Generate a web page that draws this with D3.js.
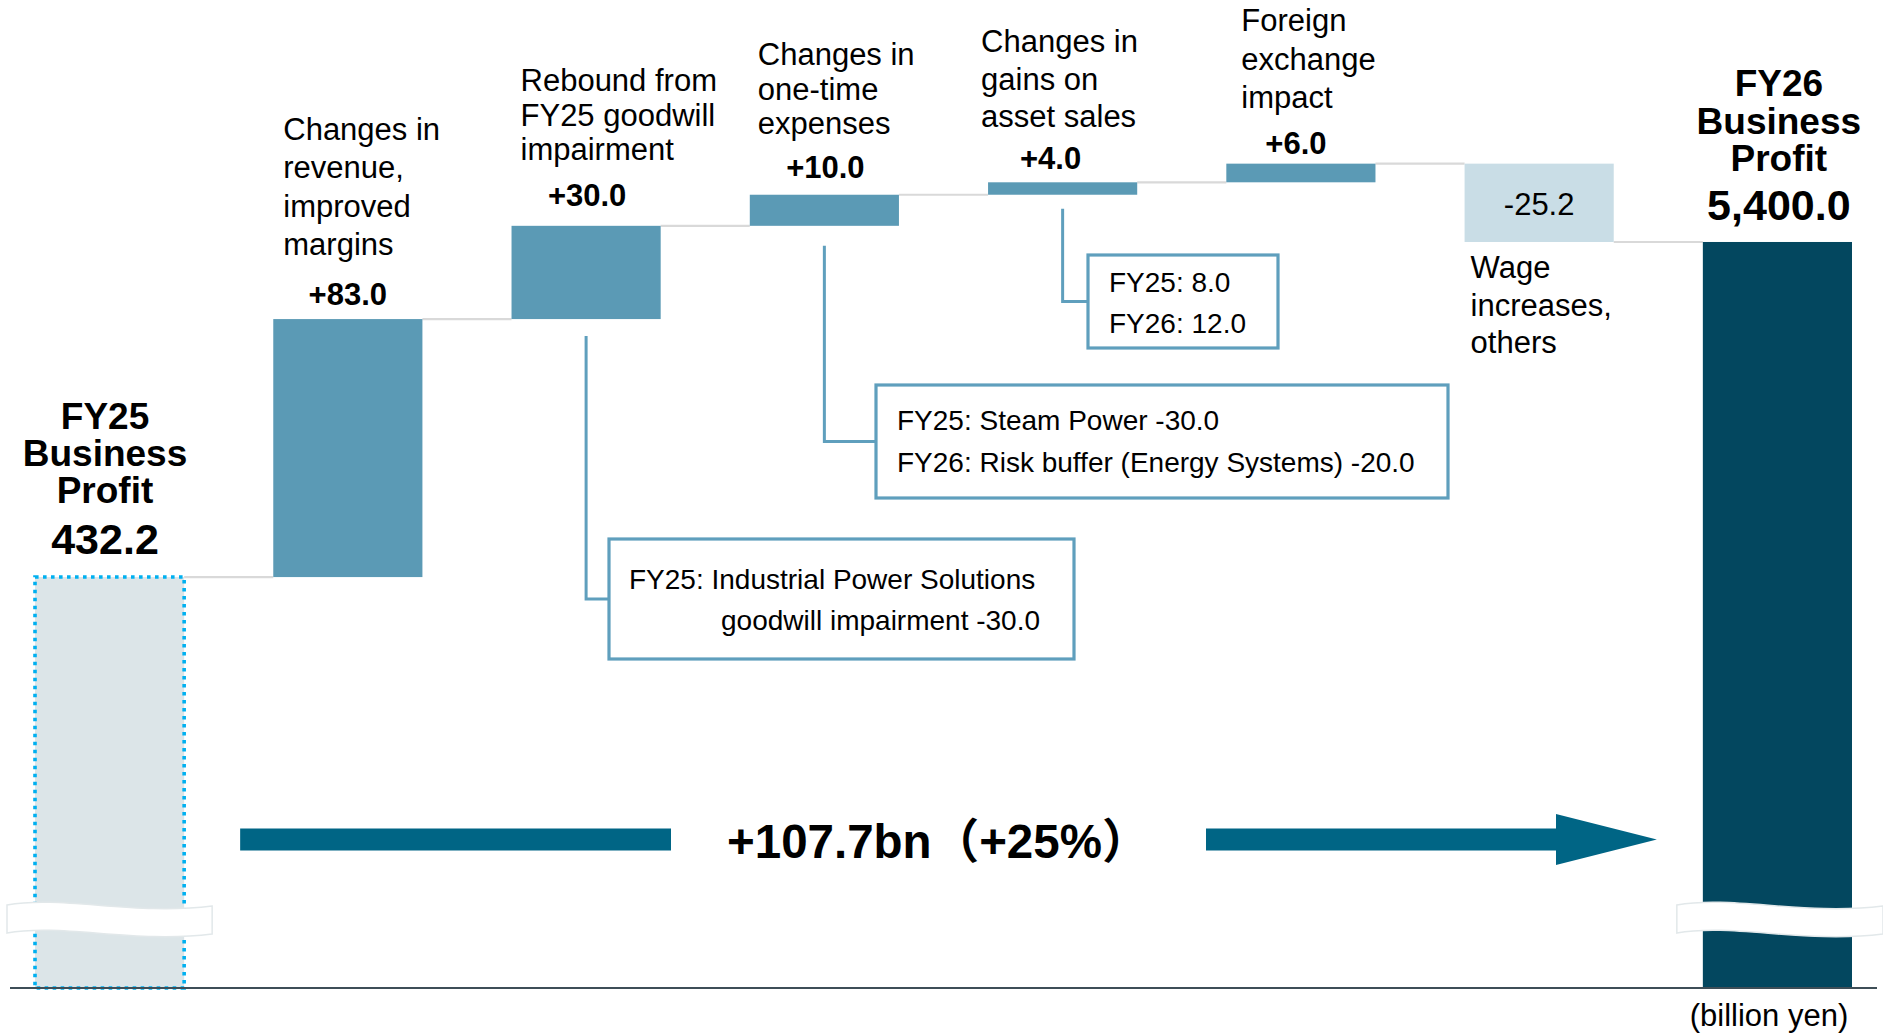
<!DOCTYPE html>
<html>
<head>
<meta charset="utf-8">
<script src="https://cdn.jsdelivr.net/npm/d3@7"></script>
<style>
html, body { margin: 0; padding: 0; background: #ffffff; }
svg { display: block; font-family: "Liberation Sans", Arial, "Noto Sans CJK JP", sans-serif; }
</style>
</head>
<body>
<svg id="chart" width="1883" height="1034"></svg>
<script>
// ---------------- DATA ----------------
const categories = [
  "FY25 Business Profit",
  "Changes in revenue, improved margins",
  "Rebound from FY25 goodwill impairment",
  "Changes in one-time expenses",
  "Changes in gains on asset sales",
  "Foreign exchange impact",
  "Wage increases, others",
  "FY26 Business Profit"
];
const startValue = 432.2;
const deltas = [83.0, 30.0, 10.0, 4.0, 6.0, -25.2];
const endValue = 540.0;
const valueLabels = ["432.2", "+83.0", "+30.0", "+10.0", "+4.0", "+6.0", "-25.2", "5,400.0"];
const categoryLabelLines = [
  ["FY25", "Business", "Profit"],
  ["Changes in", "revenue,", "improved", "margins"],
  ["Rebound from", "FY25 goodwill", "impairment"],
  ["Changes in", "one-time", "expenses"],
  ["Changes in", "gains on", "asset sales"],
  ["Foreign", "exchange", "impact"],
  ["Wage", "increases,", "others"],
  ["FY26", "Business", "Profit"]
];
const noteCategoryIndex = [2, 3, 4];
const noteLines = [
  ["FY25: Industrial Power Solutions", "goodwill impairment -30.0"],
  ["FY25: Steam Power -30.0", "FY26: Risk buffer (Energy Systems) -20.0"],
  ["FY25: 8.0", "FY26: 12.0"]
];
const totalChangeLabel = "+107.7bn\uFF08+25%\uFF09";
const unitLabel = "(billion yen)";

// ---------------- LAYOUT (not data) ----------------
const axisMin = 300;
const colors = {
  up: "#5b9ab5",
  down: "#c9dde6",
  total: "#03475f",
  startFill: "#dce5e8",
  startStroke: "#00b0f0",
  connector: "#d9d9d9",
  note: "#5f9fbd",
  arrow: "#006585",
  axis: "#3e4e57",
  text: "#000000"
};
// label placement: anchor, x offset from band start, first baseline, line height, font size, bold; value label offset
const labelLayout = [
  { anchor: "middle", dx: 70,  y0: 429, lh: 37,   size: 37, bold: true,  vy: 554, vsize: 43, vbold: true, vdx: 0 },
  { anchor: "start",  dx: 10,  y0: 140, lh: 38.4, size: 31, bold: false, vy: 305, vsize: 31, vbold: true, vdx: 0 },
  { anchor: "start",  dx: 9,   y0: 91,  lh: 34.6, size: 31, bold: false, vy: 206, vsize: 31, vbold: true, vdx: 1 },
  { anchor: "start",  dx: 8,   y0: 65,  lh: 34.6, size: 31, bold: false, vy: 178, vsize: 31, vbold: true, vdx: 1 },
  { anchor: "start",  dx: -7,  y0: 52,  lh: 37.5, size: 31, bold: false, vy: 169, vsize: 31, vbold: true, vdx: -12 },
  { anchor: "start",  dx: 15,  y0: 31,  lh: 38.5, size: 31, bold: false, vy: 154, vsize: 31, vbold: true, vdx: -5 },
  { anchor: "start",  dx: 6,   y0: 278, lh: 37.5, size: 31, bold: false, vy: 215, vsize: 31, vbold: false, vdx: 0 },
  { anchor: "middle", dx: 76,  y0: 96,  lh: 37.5, size: 37, bold: true,  vy: 220, vsize: 43, vbold: true, vdx: 0 }
];
const noteLayout = [
  { x: 609, y: 539, w: 465, h: 120, tx: [629, 721], ty: [589, 630], lineGap: 17 },
  { x: 876, y: 385, w: 572, h: 113, tx: [897, 897], ty: [430, 472], lineGap: 20 },
  { x: 1088, y: 255, w: 190, h: 93, tx: [1109, 1109], ty: [292, 333], lineGap: 14 }
];

// ---------------- SCALES ----------------
const svg = d3.select("#chart");
const x = d3.scaleBand().domain(categories).range([35, 1852]).paddingInner(0.374).paddingOuter(0);
const y = d3.scaleLinear().domain([axisMin, 570]).range([988, 988 - 270 * 3.1084]);

// running totals
const bars = [];
bars.push({ cat: categories[0], lo: axisMin, hi: startValue, type: "start", end: startValue });
let run = startValue;
deltas.forEach((d, i) => {
  const nxt = run + d;
  bars.push({ cat: categories[i + 1], lo: Math.min(run, nxt), hi: Math.max(run, nxt), type: d >= 0 ? "up" : "down", end: nxt });
  run = nxt;
});
bars.push({ cat: categories[7], lo: axisMin, hi: endValue, type: "total", end: endValue });

// connectors
const gConn = svg.append("g");
for (let i = 0; i < bars.length - 1; i++) {
  const lvl = bars[i].end;
  gConn.append("line")
    .attr("x1", x(bars[i].cat) + x.bandwidth())
    .attr("x2", x(bars[i + 1].cat))
    .attr("y1", y(lvl)).attr("y2", y(lvl))
    .attr("stroke", colors.connector).attr("stroke-width", 2.2);
}

// bars
const gBars = svg.append("g");
bars.forEach(b => {
  const r = gBars.append("rect")
    .attr("x", x(b.cat))
    .attr("width", x.bandwidth())
    .attr("y", y(b.hi))
    .attr("height", y(b.lo) - y(b.hi));
  if (b.type === "start") {
    r.attr("fill", colors.startFill)
     .attr("stroke", colors.startStroke).attr("stroke-width", 3.6)
     .attr("stroke-dasharray", "3.6,4.4");
  } else {
    r.attr("fill", b.type === "up" ? colors.up : b.type === "down" ? colors.down : colors.total);
  }
});

// axis baseline
svg.append("line")
  .attr("x1", 10).attr("x2", 1877)
  .attr("y1", y(axisMin)).attr("y2", y(axisMin))
  .attr("stroke", colors.axis).attr("stroke-width", 2);

// break marks
function breakPath(x0, x1, yT, th) {
  const w = x1 - x0;
  return `M${x0},${yT} C${x0 + w * 0.27},${yT - 10} ${x0 + w * 0.62},${yT + 11} ${x1},${yT + 1}` +
         ` L${x1},${yT + 1 + th} C${x0 + w * 0.62},${yT + 11 + th} ${x0 + w * 0.27},${yT - 10 + th} ${x0},${yT + th} Z`;
}
const bx0 = x(categories[0]), bx7 = x(categories[7]);
svg.append("path").attr("d", breakPath(bx0 - 28, bx0 + x.bandwidth() + 28, 905, 28))
  .attr("fill", "#ffffff").attr("stroke", "#e2e8ea").attr("stroke-width", 1.5);
svg.append("path").attr("d", breakPath(bx7 - 26, 1883, 905, 28))
  .attr("fill", "#ffffff").attr("stroke", "#e2e8ea").attr("stroke-width", 1.5);

// category labels + value labels
const gLab = svg.append("g").attr("fill", colors.text);
bars.forEach((b, i) => {
  const L = labelLayout[i];
  const bx = x(b.cat) + L.dx;
  const t = gLab.append("text")
    .attr("text-anchor", L.anchor)
    .attr("font-size", L.size)
    .attr("font-weight", L.bold ? "bold" : "normal");
  categoryLabelLines[i].forEach((ln, j) => {
    t.append("tspan").attr("x", bx).attr("y", L.y0 + j * L.lh).text(ln);
  });
  const cx = ((i === 0 || i === 7) ? bx : x(b.cat) + x.bandwidth() / 2) + L.vdx;
  gLab.append("text")
    .attr("x", cx).attr("y", L.vy)
    .attr("text-anchor", "middle")
    .attr("font-size", L.vsize)
    .attr("font-weight", L.vbold ? "bold" : "normal")
    .text(valueLabels[i]);
});

// note boxes with connectors
const gNotes = svg.append("g");
noteCategoryIndex.forEach((ci, k) => {
  const N = noteLayout[k];
  const b = bars[ci];
  const cx = x(b.cat) + x.bandwidth() / 2;
  const yStart = y(b.lo) + N.lineGap;
  const yMid = N.y + N.h / 2;
  gNotes.append("path")
    .attr("d", `M${cx},${yStart} L${cx},${yMid} L${N.x},${yMid}`)
    .attr("fill", "none").attr("stroke", colors.note).attr("stroke-width", 3);
  gNotes.append("rect")
    .attr("x", N.x).attr("y", N.y).attr("width", N.w).attr("height", N.h)
    .attr("fill", "#ffffff").attr("stroke", colors.note).attr("stroke-width", 3.2);
  noteLines[k].forEach((ln, j) => {
    gNotes.append("text")
      .attr("x", N.tx[j]).attr("y", N.ty[j])
      .attr("font-size", 28).attr("fill", colors.text)
      .text(ln);
  });
});

// total change arrow + label
const arrowY = 839.5;
const shaftH = 22;
const aStart = bx0 + x.bandwidth() + 56;
const aLeftEnd = 671;
const aRightStart = 1206;
const headBase = 1556;
const tip = bx7 - 46;
svg.append("rect").attr("x", aStart).attr("y", arrowY - shaftH / 2)
  .attr("width", aLeftEnd - aStart).attr("height", shaftH).attr("fill", colors.arrow);
svg.append("path")
  .attr("d", `M${aRightStart},${arrowY - shaftH / 2} L${headBase},${arrowY - shaftH / 2} L${headBase},${arrowY - 25.5} L${tip},${arrowY} L${headBase},${arrowY + 25.5} L${headBase},${arrowY + shaftH / 2} L${aRightStart},${arrowY + shaftH / 2} Z`)
  .attr("fill", colors.arrow);
svg.append("text")
  .attr("x", 727).attr("y", 858)
  .attr("font-size", 47.5).attr("font-weight", "bold").attr("fill", colors.text)
  .text(totalChangeLabel);

// unit label
svg.append("text")
  .attr("x", 1769).attr("y", 1026)
  .attr("text-anchor", "middle")
  .attr("font-size", 31).attr("fill", colors.text)
  .text(unitLabel);
</script>
</body>
</html>
